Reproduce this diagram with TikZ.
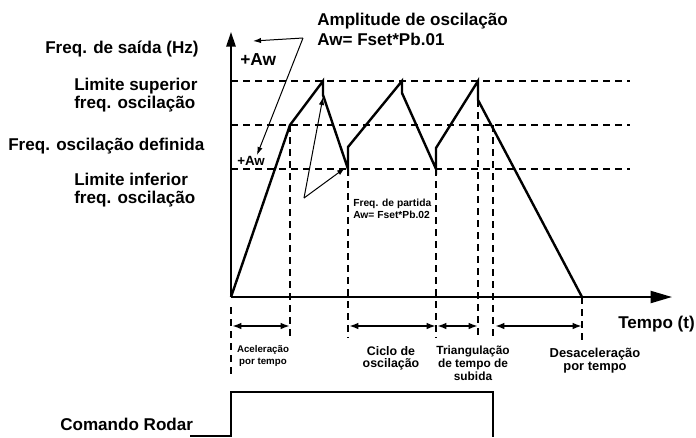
\documentclass[tikz,border=0pt]{standalone}
\usepackage{fontspec}
\setmainfont{Liberation Sans}
\usetikzlibrary{arrows.meta}
\begin{document}
\begin{tikzpicture}[
    x=0.75pt, y=-0.75pt,
    line join=miter,
    eixo/.style={line width=1.5pt},
    onda/.style={line width=1.8pt},
    pulso/.style={line width=1.4pt},
    guia/.style={line width=1.3pt, dash pattern=on 5.5pt off 3.5pt},
    seta/.style={line width=0.75pt, -{Latex[length=6pt,width=4pt]}},
    cota/.style={line width=1.4pt, {Latex[length=7pt,width=5pt]}-{Latex[length=7pt,width=5pt]}},
    grande/.style={inner sep=0pt, font=\bfseries\fontsize{12.8}{13.5}\selectfont},
    pequeno/.style={inner sep=0pt, align=center}
]

\useasboundingbox (0,0) rectangle (696,437);

% -------------------------------------------------
% Eixos
% -------------------------------------------------

\coordinate (O)    at (231,297);
\coordinate (Ytop) at (231,32);
\coordinate (Xtip) at (672,297);

\draw[eixo, -{Triangle[length=11pt,width=7pt]}] (O) -- (Ytop);
\draw[eixo, -{Triangle[length=16pt,width=9pt]}] (O) -- (Xtip);

% -------------------------------------------------
% Niveis de frequencia (tracejadas)
% -------------------------------------------------

\coordinate (Sup0) at (231,81);  \coordinate (Sup1) at (630,81);
\coordinate (Def0) at (231,125); \coordinate (Def1) at (630,125);
\coordinate (Inf0) at (231,169); \coordinate (Inf1) at (630,169);

\draw[guia] (Sup0) -- (Sup1);
\draw[guia] (Def0) -- (Def1);
\draw[guia] (Inf0) -- (Inf1);

% -------------------------------------------------
% Frequencia de saida
% -------------------------------------------------

\coordinate (P1)  at (290,125);
\coordinate (P2)  at (323,81);
\coordinate (P3)  at (323,95);
\coordinate (P4)  at (348,169);
\coordinate (P5)  at (348,147);
\coordinate (P6)  at (402,81);
\coordinate (P7)  at (402,93);
\coordinate (P8)  at (436,169);
\coordinate (P9)  at (436,148);
\coordinate (P10) at (478,81);
\coordinate (P11) at (478,100);
\coordinate (P12) at (582,297);

\draw[onda] (O) -- (P1) -- (P2) -- (P3) -- (P4) -- (P5) -- (P6) -- (P7)
    -- (P8) -- (P9) -- (P10) -- (P11) -- (P12);

% -------------------------------------------------
% Marcas de tempo (tracejadas verticais)
% -------------------------------------------------

\draw[guia] (231,307) -- (231,377);
\draw[guia] (P1)      -- (290,337);
\draw[guia] (P4)      -- (348,338);
\draw[guia] (P8)      -- (436,338);
\draw[guia] (P11)     -- (478,338);
\draw[guia] (493,125) -- (493,337);
\draw[guia] (P12)     -- (582,342);

% -------------------------------------------------
% Intervalos
% -------------------------------------------------

\coordinate (T0) at (232,326);
\coordinate (T1) at (290,326);
\coordinate (T2) at (349,326);
\coordinate (T3) at (436,326);
\coordinate (T4) at (437,326);
\coordinate (T5) at (478,326);
\coordinate (T6) at (495,326);
\coordinate (T7) at (582,326);

\draw[cota] (T0) -- (T1);
\draw[cota] (T2) -- (T3);
\draw[cota] (T4) -- (T5);
\draw[cota] (T6) -- (T7);

% (base = linha de base da ultima linha)
\node[pequeno, anchor=base, font=\bfseries\fontsize{7.3}{8.3}\selectfont]
    (acel) at (263,364) {Aceleração\\por tempo};
\node[pequeno, anchor=base, font=\bfseries\fontsize{9.3}{9}\selectfont]
    (ciclo) at (391,367) {Ciclo de\\oscilação};
\node[pequeno, anchor=base, font=\bfseries\fontsize{8.9}{9.75}\selectfont]
    (triang) at (473,380) {Triangulação\\de tempo de\\subida};
\node[pequeno, anchor=base, font=\bfseries\fontsize{9.7}{9.75}\selectfont]
    (desac) at (595,370) {Desaceleração\\por tempo};

\node[grande, anchor=base west] (tempo) at (618,328) {Tempo (t)};

% -------------------------------------------------
% Rotulos do eixo de frequencia
% -------------------------------------------------

\node[grande, anchor=base west] (saida) at (45,53) {Freq. de saída (Hz)};
\node[grande, anchor=base west, align=left] (lsup) at (74,108)
    {Limite superior\\freq. oscilação};
\node[grande, anchor=base west] (fdef) at (8,150) {Freq. oscilação definida};
\node[grande, anchor=base west, align=left] (linf) at (74,203)
    {Limite inferior\\freq. oscilação};

% -------------------------------------------------
% Amplitude
% -------------------------------------------------

\node[grande, anchor=base west, align=left, font=\bfseries\fontsize{12.8}{15}\selectfont]
    (amp) at (317,45) {Amplitude de oscilação\\Aw= Fset*Pb.01};

\node[grande, anchor=base west, font=\bfseries\fontsize{13}{13}\selectfont]
    (aw1) at (240,65) {+Aw};
\node[grande, anchor=base west, font=\bfseries\fontsize{10}{10}\selectfont]
    (aw2) at (237,165) {+Aw};

\coordinate (Q)  at (303,38);
\coordinate (Q1) at (253,41);
\coordinate (Q2) at (257,155);

\draw[seta] (Q) -- (Q1);
\draw[seta] (Q) -- (Q2);

% Frequencia de partida
\coordinate (R)  at (304,198);
\coordinate (R1) at (323,97);
\coordinate (R2) at (345,168);

\draw[seta] (R) -- (R1);
\draw[seta] (R) -- (R2);

\node[pequeno, anchor=base west, align=left, font=\bfseries\fontsize{7.7}{8.3}\selectfont]
    (part) at (353,218) {Freq. de partida\\Aw= Fset*Pb.02};

% -------------------------------------------------
% Comando Rodar
% -------------------------------------------------

\coordinate (C0) at (190,436);
\coordinate (C1) at (231,436);
\coordinate (C2) at (231,392);
\coordinate (C3) at (493,392);
\coordinate (C4) at (493,437);

\draw[pulso] (C0) -- (C1) -- (C2) -- (C3) -- (C4);

\node[grande, anchor=base west] (rodar) at (60,430) {Comando Rodar};

\end{tikzpicture}
\end{document}
